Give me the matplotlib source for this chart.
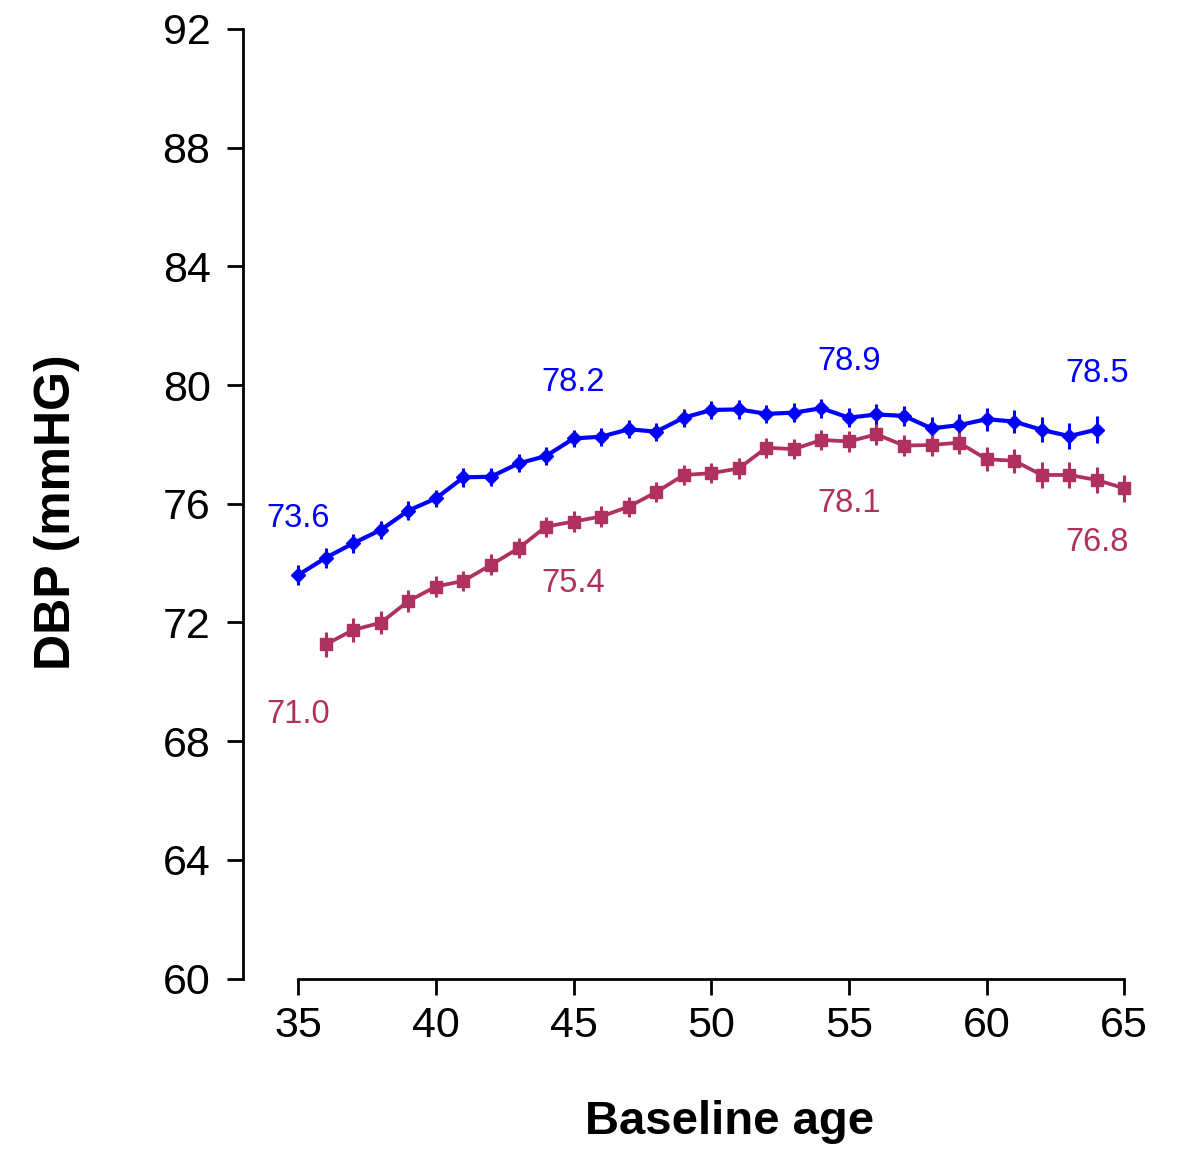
import numpy as np
import matplotlib
matplotlib.use("Agg")
import matplotlib.pyplot as plt

plt.rcParams['font.family'] = ['Liberation Sans', 'DejaVu Sans']

# Mean diastolic blood pressure by baseline age, two groups
ages_blue = np.arange(35, 65)
dbp_blue = [73.6, 74.18, 74.67, 75.12, 75.77, 76.18, 76.89, 76.91, 77.36, 77.61,
            78.2, 78.26, 78.51, 78.43, 78.90, 79.16, 79.18, 79.03, 79.07, 79.22,
            78.9, 79.01, 78.96, 78.54, 78.65, 78.85, 78.77, 78.49, 78.28, 78.5]
err_blue = [0.35, 0.33, 0.32, 0.31, 0.31, 0.30, 0.31, 0.30, 0.30, 0.30,
            0.30, 0.30, 0.30, 0.30, 0.30, 0.31, 0.31, 0.31, 0.32, 0.32,
            0.33, 0.34, 0.35, 0.37, 0.38, 0.39, 0.40, 0.42, 0.44, 0.45]

ages_red = np.arange(36, 66)
dbp_red = [71.26, 71.75, 71.99, 72.72, 73.21, 73.40, 73.94, 74.50, 75.23, 75.4,
           75.57, 75.90, 76.39, 76.97, 77.03, 77.19, 77.89, 77.84, 78.15, 78.1,
           78.34, 77.96, 77.98, 78.06, 77.50, 77.45, 76.97, 76.97, 76.8, 76.52]
err_red = [0.42, 0.40, 0.38, 0.37, 0.36, 0.35, 0.35, 0.34, 0.34, 0.34,
           0.34, 0.34, 0.34, 0.34, 0.34, 0.34, 0.34, 0.34, 0.34, 0.34,
           0.35, 0.36, 0.36, 0.37, 0.40, 0.41, 0.43, 0.45, 0.45, 0.45]

# Annotated values
label_ages_blue = [35, 45, 55, 64]
label_vals_blue = [73.6, 78.2, 78.9, 78.5]
label_ages_red = [35, 45, 55, 64]
label_vals_red = [71.0, 75.4, 78.1, 76.8]

x_ticks = [35, 40, 45, 50, 55, 60, 65]
y_ticks = [60, 64, 68, 72, 76, 80, 84, 88, 92]

BLUE = '#0000FF'
MAROON = '#B03060'

fig = plt.figure(figsize=(11.84, 11.54), dpi=100)
ax = fig.add_axes([243.2 / 1184, 175.5 / 1154, 881.1 / 1184, 949.5 / 1154])

ax.errorbar(ages_blue, dbp_blue, yerr=err_blue, color=BLUE, lw=3.0,
            marker='D', ms=7, elinewidth=2.2, capsize=0, clip_on=False, zorder=3)
ax.errorbar(ages_red, dbp_red, yerr=err_red, color=MAROON, lw=2.7,
            marker='s', ms=8, elinewidth=2.2, capsize=0, clip_on=False, zorder=3)

for a, v in zip(label_ages_blue, label_vals_blue):
    ax.annotate(f"{v:.1f}", (a, v + 2), xytext=(0, -3), textcoords='offset pixels',
                color=BLUE, fontsize=23.5, ha='center', va='center')
for a, v in zip(label_ages_red, label_vals_red):
    ax.annotate(f"{v:.1f}", (a, v - 2), xytext=(0, -3), textcoords='offset pixels',
                color=MAROON, fontsize=23.5, ha='center', va='center')

ax.set_xlim(33, 65)
ax.set_ylim(60, 92)
ax.set_xticks(x_ticks)
ax.set_yticks(y_ticks)

for s in ['top', 'right']:
    ax.spines[s].set_visible(False)
ax.spines['left'].set_bounds(60, 92)
ax.spines['bottom'].set_bounds(35, 65)
for s in ['left', 'bottom']:
    ax.spines[s].set_linewidth(2.0)

ax.tick_params(axis='both', direction='out', length=11.5, width=2.0, labelsize=31)
ax.tick_params(axis='y', pad=12)
ax.tick_params(axis='x', pad=8)

fig.text(730 / 1184, 1 - 1122 / 1154, "Baseline age", fontsize=34, fontweight='bold',
         ha='center', va='center')
fig.text(57 / 1184, 1 - 512 / 1154, "DBP (mmHG)", fontsize=36, fontweight='bold',
         ha='center', va='center', rotation=90)

fig.savefig("out.png", dpi=100)
